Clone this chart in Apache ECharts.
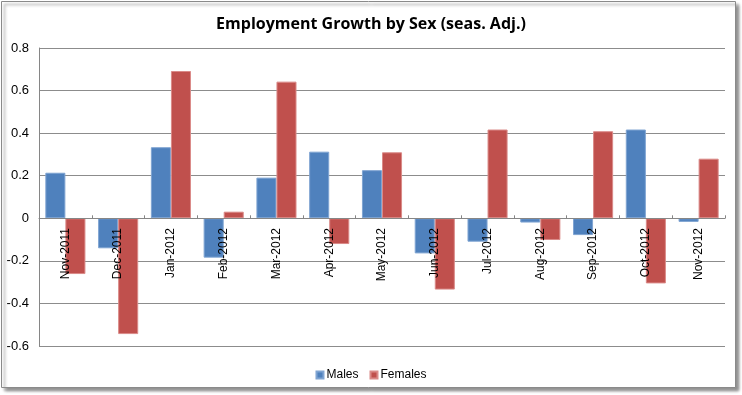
<!DOCTYPE html>
<html><head><meta charset="utf-8">
<script src="https://cdn.jsdelivr.net/npm/echarts@6/dist/echarts.min.js"></script>
<style>html,body{margin:0;padding:0;background:#fff}#c{width:742px;height:395px}</style>
</head><body><div id="c"></div>
<script>
const categories = ['Nov-2011','Dec-2011','Jan-2012','Feb-2012','Mar-2012','Apr-2012','May-2012','Jun-2012','Jul-2012','Aug-2012','Sep-2012','Oct-2012','Nov-2012'];
const males   = [0.214,-0.141,0.334,-0.185,0.191,0.313,0.226,-0.165,-0.110,-0.020,-0.079,0.417,-0.017];
const females = [-0.262,-0.544,0.692,0.031,0.642,-0.121,0.310,-0.335,0.417,-0.102,0.409,-0.306,0.280];
const yTicks = {min:-0.6, max:0.8, step:0.2};

const chart = echarts.init(document.getElementById('c'), null, {renderer:'canvas'});
chart.setOption({
  animation:false,
  textStyle:{fontFamily:'Liberation Sans'},
  graphic:[{
    type:'rect', z:-10, silent:true,
    shape:{x:1.5,y:1.5,width:734,height:386},
    style:{fill:'#fff',stroke:'#8a8a8a',lineWidth:1,shadowColor:'rgba(0,0,0,0.45)',shadowBlur:3,shadowOffsetX:3,shadowOffsetY:3}
  }],
  title:{text:'Employment Growth by Sex (seas. Adj.)',left:'center',top:11,
    textStyle:{fontFamily:'Open Sans',fontWeight:'bold',fontSize:16,color:'#000'}},
  legend:{data:['Males','Females'],top:364,left:'center',icon:'rect',itemWidth:7,itemHeight:7,itemGap:11,
    textStyle:{fontSize:12,color:'#000',fontFamily:'Liberation Sans',padding:[0,0,0,-2]}},
  grid:{left:39,right:17,top:48,bottom:49,containLabel:false,outerBoundsMode:'none'},
  xAxis:{type:'category',data:categories,z:5,
    axisLine:{onZero:true,lineStyle:{color:'#868686'}},
    axisTick:{show:true,inside:true,length:3,alignWithLabel:false,lineStyle:{color:'#868686'}},
    axisLabel:{rotate:90,margin:-118,fontSize:12,color:'#000',interval:0,fontFamily:'Liberation Sans'}},
  yAxis:{type:'value',min:yTicks.min,max:yTicks.max,interval:yTicks.step,
    axisLine:{show:true,lineStyle:{color:'#868686'}},
    axisTick:{show:false},
    splitLine:{lineStyle:{color:'#8c8c8c'}},
    axisLabel:{fontSize:13,color:'#000',margin:10,formatter:v=>{const r=Math.round(v*10)/10;return r===0?'0':String(r);}}},
  series:[
    {name:'Males',type:'bar',data:males,barGap:'0%',barCategoryGap:'24%',
      itemStyle:{color:'#4F81BD',borderColor:'#7FA4D2',borderWidth:1}},
    {name:'Females',type:'bar',data:females,barGap:'0%',barCategoryGap:'24%',
      itemStyle:{color:'#C0504D',borderColor:'#DA8A88',borderWidth:1}}
  ]
});
</script></body></html>
